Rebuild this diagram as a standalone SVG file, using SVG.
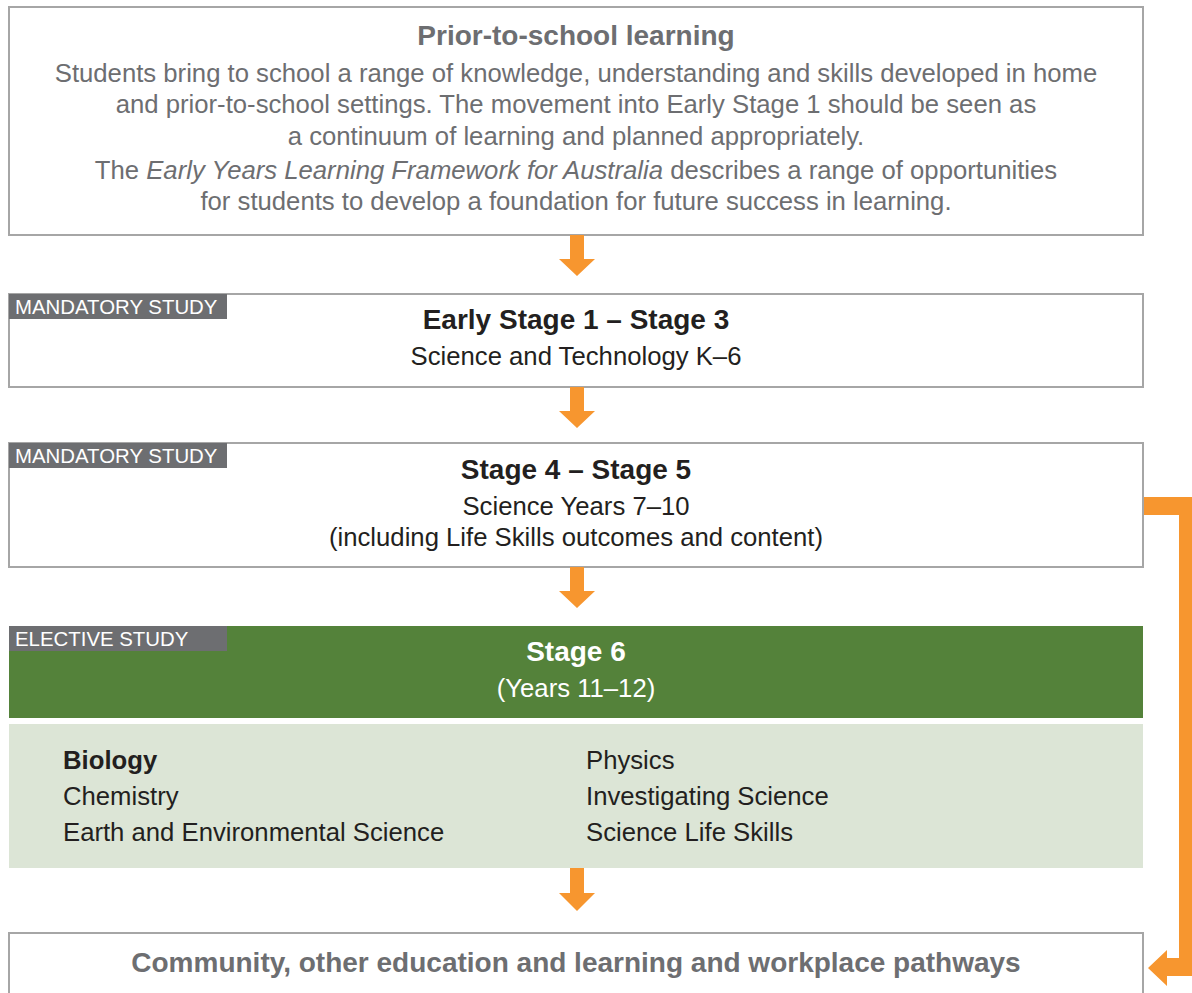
<svg xmlns="http://www.w3.org/2000/svg" width="1192" height="993" viewBox="0 0 1192 993">
<style>
.box{fill:#ffffff;stroke:#a6a6a6;stroke-width:2}
.t{font-family:"Liberation Sans",Arial,sans-serif;text-anchor:middle}
.b{font-weight:bold;font-size:28px}
.r{font-size:25.7px}
.gray{fill:#6d6e71}
.dark{fill:#231f20}
.lbl{fill:#6d6e71}
.lt{font-family:"Liberation Sans",Arial,sans-serif;font-size:20.4px;fill:#ffffff}
.it{font-family:"Liberation Sans",Arial,sans-serif;font-size:25.7px;fill:#231f20}
.arr{fill:#f7962f}
</style>
<g id="prior">
<rect class="box" x="9" y="7" width="1134" height="228"/>
<text class="t b gray" x="576" y="45">Prior-to-school learning</text>
<text class="t r gray" x="576" y="82">Students bring to school a range of knowledge, understanding and skills developed in home</text>
<text class="t r gray" x="576" y="113">and prior-to-school settings. The movement into Early Stage 1 should be seen as</text>
<text class="t r gray" x="576" y="145">a continuum of learning and planned appropriately.</text>
<text class="t r gray" x="576" y="179">The <tspan font-style="italic">Early Years Learning Framework for Australia</tspan> describes a range of opportunities</text>
<text class="t r gray" x="576" y="210">for students to develop a foundation for future success in learning.</text>
</g>
<g id="es1-s3">
<rect class="box" x="9" y="294" width="1134" height="93"/>
<rect class="lbl" x="9" y="294" width="218" height="25"/>
<text class="lt" x="15" y="314">MANDATORY STUDY</text>
<text class="t b dark" x="576" y="329">Early Stage 1 – Stage 3</text>
<text class="t r dark" x="576" y="365">Science and Technology K–6</text>
</g>
<g id="s4-s5">
<rect class="box" x="9" y="443" width="1134" height="124"/>
<rect class="lbl" x="9" y="443" width="218" height="25"/>
<text class="lt" x="15" y="463">MANDATORY STUDY</text>
<text class="t b dark" x="576" y="479">Stage 4 – Stage 5</text>
<text class="t r dark" x="576" y="515">Science Years 7–10</text>
<text class="t r dark" x="576" y="546">(including Life Skills outcomes and content)</text>
</g>
<g id="stage6">
<rect x="9" y="626" width="1134" height="92" fill="#54823a"/>
<rect class="lbl" x="9" y="626" width="218" height="25"/>
<text class="lt" x="15" y="646">ELECTIVE STUDY</text>
<text class="t b" x="576" y="661" fill="#ffffff">Stage 6</text>
<text class="t r" x="576" y="697" fill="#ffffff">(Years 11–12)</text>
</g>
<g id="courses">
<rect x="9" y="724" width="1134" height="144" fill="#dce5d6"/>
<text class="it" x="63" y="769" font-weight="bold">Biology</text>
<text class="it" x="63" y="805">Chemistry</text>
<text class="it" x="63" y="841">Earth and Environmental Science</text>
<text class="it" x="586" y="769">Physics</text>
<text class="it" x="586" y="805">Investigating Science</text>
<text class="it" x="586" y="841">Science Life Skills</text>
</g>
<g id="pathways">
<rect class="box" x="9" y="933" width="1134" height="80"/>
<text class="t b gray" x="576" y="972">Community, other education and learning and workplace pathways</text>
</g>
<g id="connectors">
<polygon class="arr" points="570,235 584,235 584,259 595,259 577,276 559,259 570,259"/>
<polygon class="arr" points="570,387 584,387 584,411 595,411 577,428 559,411 570,411"/>
<polygon class="arr" points="570,567 584,567 584,591 595,591 577,608 559,591 570,591"/>
<polygon class="arr" points="570,868 584,868 584,893 595,893 577,911 559,893 570,893"/>
<polygon class="arr" points="1144,497 1197,497 1197,976 1167,976 1167,986 1148,968 1167,950 1167,958 1179,958 1179,515 1144,515"/>
</g>
</svg>
